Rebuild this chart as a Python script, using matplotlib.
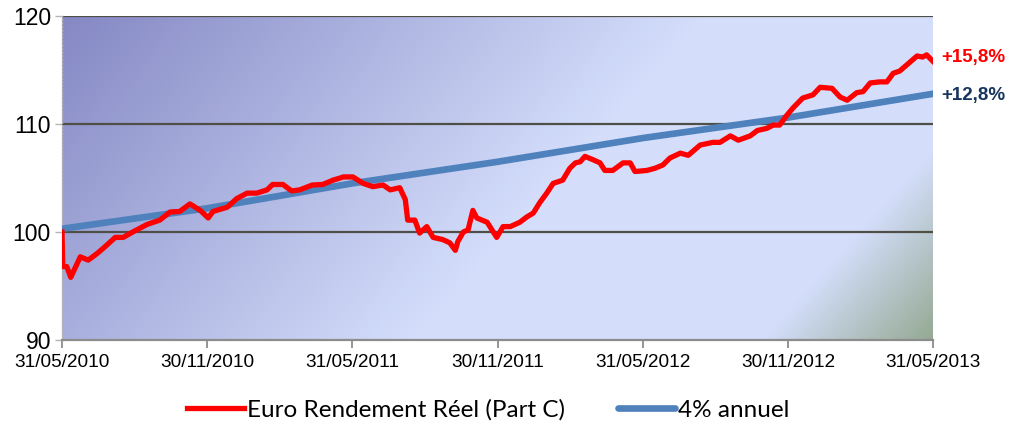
import numpy as np
import pandas as pd
import matplotlib
matplotlib.use("Agg")
import matplotlib.pyplot as plt
import matplotlib.dates as mdates
from matplotlib.colors import to_rgb

# Fund NAV rebased to 100
red_dates = [
    "2010-05-31", "2010-06-01", "2010-06-06", "2010-06-11", "2010-06-23", "2010-07-03",
    "2010-07-14", "2010-07-22", "2010-08-06", "2010-08-16", "2010-08-28", "2010-09-15",
    "2010-10-01", "2010-10-14", "2010-10-26", "2010-11-08", "2010-11-21", "2010-12-01",
    "2010-12-07", "2010-12-25", "2011-01-06", "2011-01-19", "2011-01-31", "2011-02-13",
    "2011-02-20", "2011-03-05", "2011-03-16", "2011-03-26", "2011-04-11", "2011-04-24",
    "2011-05-07", "2011-05-16", "2011-05-20", "2011-06-01", "2011-06-14", "2011-06-26",
    "2011-07-09", "2011-07-18", "2011-07-30", "2011-08-06", "2011-08-09", "2011-08-18",
    "2011-08-24", "2011-09-02", "2011-09-10", "2011-09-22", "2011-10-01", "2011-10-08",
    "2011-10-11", "2011-10-18", "2011-10-24", "2011-10-30", "2011-11-04", "2011-11-17",
    "2011-11-23", "2011-11-29", "2011-12-07", "2011-12-16", "2011-12-28", "2012-01-06",
    "2012-01-14", "2012-01-22", "2012-01-31", "2012-02-08", "2012-02-20", "2012-02-29",
    "2012-03-07", "2012-03-13", "2012-03-19", "2012-03-29", "2012-04-07", "2012-04-13",
    "2012-04-23", "2012-05-06", "2012-05-15", "2012-05-21", "2012-06-05", "2012-06-15",
    "2012-06-25", "2012-07-04", "2012-07-17", "2012-07-27", "2012-08-11", "2012-08-27",
    "2012-09-05", "2012-09-18", "2012-09-28", "2012-10-13", "2012-10-22", "2012-11-03",
    "2012-11-11", "2012-11-19", "2012-11-28", "2012-12-06", "2012-12-18", "2012-12-31",
    "2013-01-09", "2013-01-24", "2013-02-03", "2013-02-12", "2013-02-24", "2013-03-04",
    "2013-03-13", "2013-03-25", "2013-04-03", "2013-04-11", "2013-04-19", "2013-04-30",
    "2013-05-11", "2013-05-18", "2013-05-23", "2013-05-31",
]
red_values = [
    100.0, 96.8, 96.8, 95.8, 97.7, 97.4,
    98.0, 98.5, 99.5, 99.5, 100.0, 100.7,
    101.1, 101.85, 101.9, 102.6, 102.0, 101.3,
    101.9, 102.3, 103.1, 103.6, 103.6, 103.9,
    104.4, 104.4, 103.8, 103.9, 104.35, 104.4,
    104.8, 105.0, 105.1, 105.1, 104.5, 104.2,
    104.35, 103.9, 104.1, 103.0, 101.1, 101.1,
    99.9, 100.5, 99.5, 99.3, 99.0, 98.3,
    99.1, 100.0, 100.2, 102.0, 101.3, 100.9,
    100.2, 99.5, 100.5, 100.5, 100.9, 101.4,
    101.75, 102.7, 103.6, 104.5, 104.8, 105.9,
    106.4, 106.5, 107.0, 106.7, 106.4, 105.7,
    105.7, 106.4, 106.4, 105.6, 105.7, 105.9,
    106.2, 106.85, 107.3, 107.1, 108.05, 108.3,
    108.3, 108.9, 108.5, 108.9, 109.4, 109.6,
    109.9, 109.9, 110.8, 111.5, 112.4, 112.7,
    113.4, 113.3, 112.5, 112.2, 112.9, 113.0,
    113.8, 113.9, 113.9, 114.7, 114.9, 115.6,
    116.3, 116.2, 116.4, 115.8,
]

# 4% per year reference
blue_dates = ["2010-05-31", "2010-11-30", "2011-05-31", "2011-11-30",
              "2012-05-31", "2012-11-30", "2013-05-31"]
blue_values = [100.3, 102.2, 104.5, 106.5, 108.7, 110.6, 112.8]

tick_dates = ["2010-05-31", "2010-11-30", "2011-05-31", "2011-11-30",
              "2012-05-31", "2012-11-30", "2013-05-31"]
y_ticks = [90, 100, 110, 120]

fund_label = "Euro Rendement Réel (Part C)"
ref_label = "4% annuel"
fund_perf = "+15,8%"
ref_perf = "+12,8%"

plt.rcParams["font.family"] = ["Liberation Sans", "DejaVu Sans"]

fig = plt.figure(figsize=(10.15, 4.25), dpi=100)
pos = [62 / 1015, 85 / 425, 871 / 1015, 324 / 425]

# gradient background in its own axes
bg = fig.add_axes(pos, zorder=0)
h, w = 324, 871
yy, xx = np.mgrid[0:h, 0:w]
d = xx + 0.9 * yy
c_dark = np.array(to_rgb("#8588c4"))
c_light = np.array(to_rgb("#d4defb"))
c_green = np.array(to_rgb("#93a890"))
t1 = np.clip(d / 640.0, 0, 1)[..., None]
t2 = np.clip((d - 990) / 175.0, 0, 1)[..., None]
img = c_dark + (c_light - c_dark) * t1
img = img + (c_green - img) * t2
bg.imshow(img, aspect="auto", extent=[0, 1, 0, 1], origin="upper")
bg.set_axis_off()

ax = fig.add_axes(pos, zorder=1)
ax.patch.set_alpha(0)

rd = pd.to_datetime(red_dates)
bd = pd.to_datetime(blue_dates)
ax.plot(bd, blue_values, color="#4f81bd", lw=4.8, solid_capstyle="round", label=ref_label, zorder=3)
ax.plot(rd, red_values, color="#ff0000", lw=3.8, solid_joinstyle="round", label=fund_label, zorder=4)

td = pd.to_datetime(tick_dates)
ax.set_xlim(td[0], td[-1])
ax.set_ylim(90, 120)
ax.set_xticks(td)
ax.xaxis.set_major_formatter(mdates.DateFormatter("%d/%m/%Y"))
ax.set_yticks(y_ticks)

for v in y_ticks[1:]:
    ax.axhline(v, color="#4f4f47", lw=1.6, zorder=2)

for s in ["top", "right"]:
    ax.spines[s].set_visible(False)
ax.spines["bottom"].set_color("#8c8c8c")
ax.spines["bottom"].set_linewidth(1.6)
ax.spines["left"].set_color("#b4b4b4")
ax.spines["left"].set_linestyle(":")
ax.spines["left"].set_linewidth(1.0)

ax.tick_params(axis="x", direction="out", length=6, width=1.3, color="#8c8c8c",
               labelsize=13.7, pad=4)
ax.tick_params(axis="y", direction="out", length=5, width=1.0, color="#b4b4b4",
               labelsize=16.5, pad=3)

ax.text(1.01, (116.2 - 90) / 30, fund_perf, transform=ax.transAxes, color="#ff0000",
        fontsize=13.5, fontweight="bold", va="center", ha="left")
ax.text(1.01, (112.8 - 90) / 30 - 0.005, ref_perf, transform=ax.transAxes, color="#17365d",
        fontsize=13.5, fontweight="bold", va="center", ha="left")

handles, labels = ax.get_legend_handles_labels()
leg = fig.legend(handles[::-1], labels[::-1], loc="center", bbox_to_anchor=(488 / 1015, 1 - 410 / 425),
                 ncol=2, frameon=False, handlelength=2.35, columnspacing=2.2, handletextpad=0.12,
                 prop={"family": ["Lato", "DejaVu Sans"], "size": 17.5})

fig.savefig("out.png", dpi=100)
